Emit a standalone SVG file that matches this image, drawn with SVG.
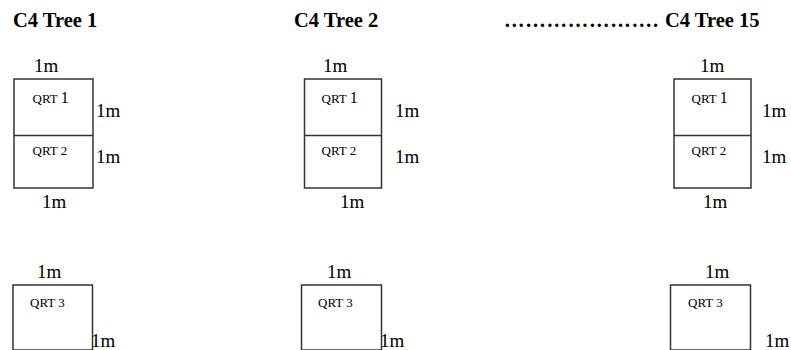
<svg xmlns="http://www.w3.org/2000/svg" width="791" height="350" viewBox="0 0 791 350">
<style>
.title{font-family:"Liberation Serif",serif;font-weight:bold;font-size:20.5px;fill:#000}
.dim{font-family:"Liberation Serif",serif;font-size:19px;fill:#000}
.q{font-family:"Liberation Serif","Times New Roman",serif;font-size:13px;fill:#000}
.q .big{font-size:16px}
.box{fill:#fff;stroke:#333;stroke-width:1.5}
.div{stroke:#333;stroke-width:1.5}
</style>
<rect width="791" height="350" fill="#fff"/>
<g id="tree1">
  <text class="title" x="13" y="27">C4 Tree 1</text>
  <text class="dim" x="34" y="72">1m</text>
  <rect class="box" x="14" y="79" width="79" height="109"/>
  <line class="div" x1="14" y1="135.5" x2="93" y2="135.5"/>
  <text class="q" x="32.5" y="102.5">QRT <tspan class="big">1</tspan></text>
  <text class="q" x="32.5" y="155">QRT 2</text>
  <text class="dim" x="96" y="117">1m</text>
  <text class="dim" x="96" y="163">1m</text>
  <text class="dim" x="42" y="208">1m</text>
</g>
<g id="tree2">
  <text class="title" x="294" y="27">C4 Tree 2</text>
  <text class="dim" x="323" y="72">1m</text>
  <rect class="box" x="304.5" y="79" width="77" height="109"/>
  <line class="div" x1="304.5" y1="135.5" x2="381.5" y2="135.5"/>
  <text class="q" x="321.5" y="102.5">QRT <tspan class="big">1</tspan></text>
  <text class="q" x="321.5" y="155">QRT 2</text>
  <text class="dim" x="395" y="117">1m</text>
  <text class="dim" x="395" y="163">1m</text>
  <text class="dim" x="340" y="208">1m</text>
</g>
<g id="tree15">
  <text class="title" x="504" y="27" textLength="154" lengthAdjust="spacing">………………….</text>
  <text class="title" x="665" y="27">C4 Tree 15</text>
  <text class="dim" x="700" y="72">1m</text>
  <rect class="box" x="674" y="79" width="77" height="109"/>
  <line class="div" x1="674" y1="135.5" x2="751" y2="135.5"/>
  <text class="q" x="691.5" y="102.5">QRT <tspan class="big">1</tspan></text>
  <text class="q" x="691.5" y="155">QRT 2</text>
  <text class="dim" x="762" y="117">1m</text>
  <text class="dim" x="762" y="163">1m</text>
  <text class="dim" x="703" y="208">1m</text>
</g>
<g id="qrt3-tree1">
  <text class="dim" x="37" y="278">1m</text>
  <rect class="box" x="13" y="285" width="79.5" height="65"/>
  <text class="q" x="30" y="306.5">QRT 3</text>
  <text class="dim" x="91" y="346.5">1m</text>
</g>
<g id="qrt3-tree2">
  <text class="dim" x="327" y="278">1m</text>
  <rect class="box" x="301.5" y="285" width="80" height="65"/>
  <text class="q" x="318" y="306.5">QRT 3</text>
  <text class="dim" x="380" y="346.5">1m</text>
</g>
<g id="qrt3-tree15">
  <text class="dim" x="705" y="278">1m</text>
  <rect class="box" x="670.5" y="285" width="80" height="65"/>
  <text class="q" x="688" y="306.5">QRT 3</text>
  <text class="dim" x="765" y="346.5">1m</text>
</g>
<g id="connectors"></g>
</svg>
